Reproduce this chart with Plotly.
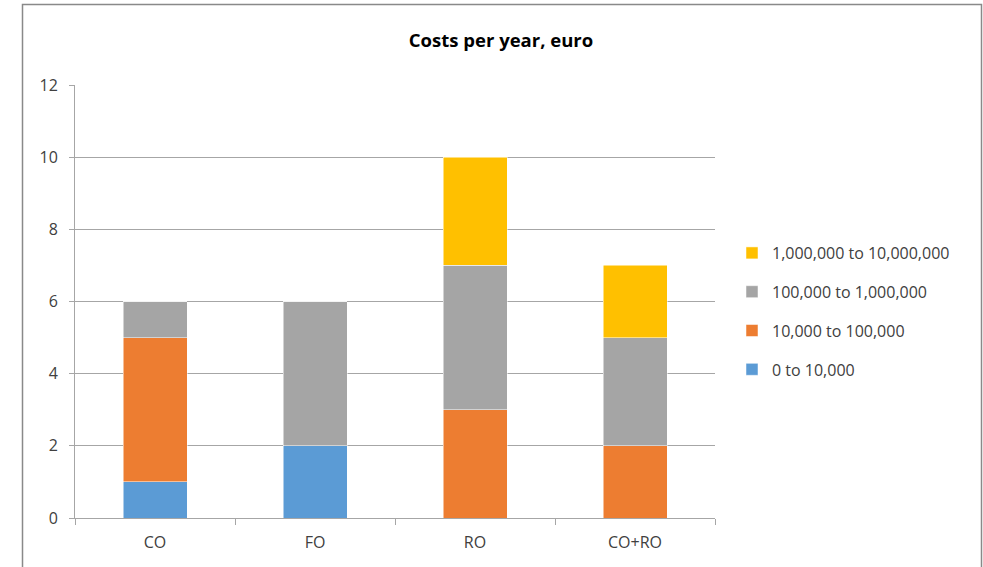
import plotly.graph_objects as go

categories = ["CO", "FO", "RO", "CO+RO"]
series_names = ["0 to 10,000", "10,000 to 100,000", "100,000 to 1,000,000", "1,000,000 to 10,000,000"]
v_0_10k = [1, 2, 0, 0]
v_10k_100k = [4, 0, 3, 2]
v_100k_1m = [1, 4, 4, 3]
v_1m_10m = [0, 0, 3, 2]
colors = ["#5B9BD5", "#ED7D31", "#A5A5A5", "#FFC000"]
y_ticks = [0, 2, 4, 6, 8, 10, 12]

W, H = 983, 567
L, R, T, B = 75, 268, 85, 49
pw, ph = W - L - R, H - T - B

def px_x(x):  # screen px -> paper
    return (x - L) / pw

def px_y(y):
    return (H - B - y) / ph

fig = go.Figure()
for i, (name, vals) in enumerate(zip(series_names, [v_0_10k, v_10k_100k, v_100k_1m, v_1m_10m])):
    fig.add_trace(go.Bar(
        x=categories, y=vals, name=name, legendgroup=f"g{i}", legendrank=10 - i,
        marker=dict(color=colors[i], line=dict(color="white", width=0.5)),
    ))

font_family = "Open Sans, Liberation Sans, sans-serif"

fig.update_layout(
    width=W, height=H,
    margin=dict(l=L, r=R, t=T, b=B),
    barmode="stack",
    bargap=0.6,
    plot_bgcolor="white",
    paper_bgcolor="white",
    font=dict(family=font_family, size=16, color="#595959"),
    title=dict(text="<b>Costs per year, euro</b>", x=px_x(501), xref="paper", xanchor="center",
               y=1 - 41 / H, yanchor="middle", yref="container",
               font=dict(family=font_family, size=18.5, color="#000000")),
    legend=dict(x=px_x(732), y=px_y(311.5), xanchor="left", yanchor="middle",
                traceorder="grouped", tracegroupgap=15,
                font=dict(family=font_family, size=16, color="#404040"),
                bgcolor="rgba(0,0,0,0)"),
    xaxis=dict(
        showline=True, linecolor="#A6A6A6", linewidth=1,
        ticks="outside", tickson="boundaries", ticklen=6, tickcolor="#A6A6A6",
        showgrid=False, tickfont=dict(size=16, color="#404040"), ticklabelstandoff=10,
    ),
    yaxis=dict(
        range=[0, 12], tickvals=y_ticks, showline=True, linecolor="#A6A6A6", linewidth=1,
        ticks="outside", ticklen=5, tickcolor="#A6A6A6",
        showgrid=True, gridcolor="#A6A6A6", gridwidth=1, zeroline=False,
        tickfont=dict(size=16, color="#404040"), ticklabelstandoff=8,
    ),
    shapes=[dict(type="rect", xref="paper", yref="paper",
                 x0=px_x(22.5), x1=px_x(981.5), y0=px_y(600), y1=px_y(4.5),
                 line=dict(color="#898989", width=1.5), fillcolor="rgba(0,0,0,0)", layer="below")],
)

fig.write_html("out.html", config={"displayModeBar": False},
               post_script="document.body.style.margin='0';document.body.style.overflow='hidden';")
